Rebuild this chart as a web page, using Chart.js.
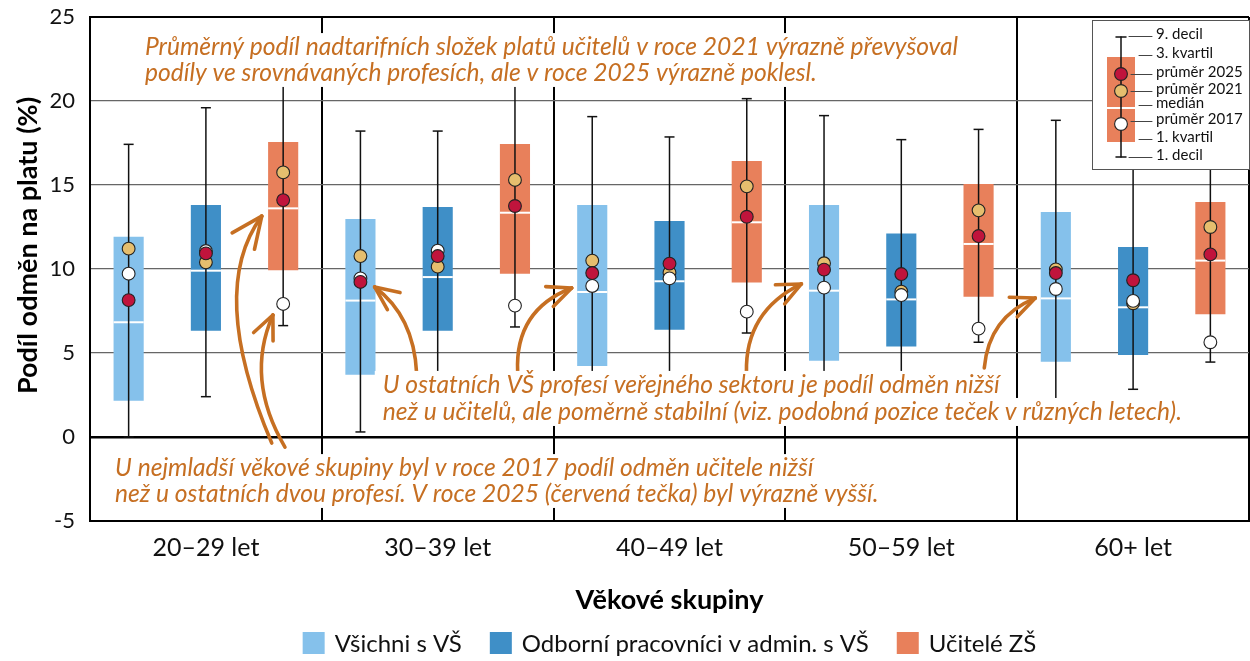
<!DOCTYPE html>
<html>
<head>
<meta charset="utf-8">
<script src="https://cdn.jsdelivr.net/npm/chart.js@4.4.1/dist/chart.umd.min.js"></script>
<style>
  html, body { margin: 0; padding: 0; background: #fff; }
</style>
</head>
<body>
<canvas id="chart" width="1250" height="661"></canvas>
<script>
const ageGroups = ['20–29 let', '30–39 let', '40–49 let', '50–59 let', '60+ let'];
const seriesNames = ['Všichni s VŠ', 'Odborní pracovníci v admin. s VŠ', 'Učitelé ZŠ'];
const yTicks = [-5, 0, 5, 10, 15, 20, 25];

// Všichni s VŠ
const allDecile1 = [0.0, 0.3, 1.8, 1.9, 1.8];
const allQuart1 = [2.16, 3.71, 4.23, 4.54, 4.48];
const allMedian = [6.83, 8.12, 8.63, 8.71, 8.25];
const allQuart3 = [11.92, 12.98, 13.81, 13.81, 13.39];
const allDecile9 = [17.42, 18.21, 19.07, 19.13, 18.85];
const allMean2017 = [9.72, 9.44, 8.99, 8.89, 8.81];
const allMean2021 = [11.21, 10.77, 10.5, 10.34, 9.98];
const allMean2025 = [8.15, 9.23, 9.76, 9.96, 9.76];

// Odborní pracovníci v admin. s VŠ
const adminDecile1 = [2.4, 2.0, 3.85, 2.2, 2.84];
const adminQuart1 = [6.33, 6.33, 6.39, 5.38, 4.88];
const adminMedian = [9.9, 9.52, 9.27, 8.19, 7.72];
const adminQuart3 = [13.81, 13.69, 12.86, 12.12, 11.31];
const adminDecile9 = [19.6, 18.21, 17.86, 17.7, 18.0];
const adminMean2017 = [11.07, 11.09, 9.44, 8.45, 8.1];
const adminMean2021 = [10.4, 10.14, 9.78, 8.65, 7.96];
const adminMean2025 = [10.93, 10.77, 10.32, 9.7, 9.33];

// Učitelé ZŠ
const teachDecile1 = [6.63, 6.55, 6.19, 5.64, 4.46];
const teachQuart1 = [9.92, 9.72, 9.19, 8.35, 7.3];
const teachMedian = [13.61, 13.35, 12.78, 11.49, 10.5];
const teachQuart3 = [17.56, 17.44, 16.43, 15.06, 13.99];
const teachDecile9 = [22.5, 21.8, 20.14, 18.31, 20.5];
const teachMean2017 = [7.92, 7.82, 7.46, 6.45, 5.64];
const teachMean2021 = [15.75, 15.3, 14.92, 13.49, 12.5];
const teachMean2025 = [14.1, 13.75, 13.11, 11.96, 10.87];

const legendLabels = ['9. decil', '3. kvartil', 'průměr 2025', 'průměr 2021', 'medián', 'průměr 2017', '1. kvartil', '1. decil'];

const noteTop = [
  'Průměrný podíl nadtarifních složek platů učitelů v roce 2021 výrazně převyšoval',
  'podíly ve srovnávaných profesích, ale v roce 2025 výrazně poklesl.'
];
const noteMiddle = [
  'U ostatních VŠ profesí veřejného sektoru je podíl odměn nižší',
  'než u učitelů, ale poměrně stabilní (viz. podobná pozice teček v různých letech).'
];
const noteBottom = [
  'U nejmladší věkové skupiny byl v roce 2017 podíl odměn učitele nižší',
  'než u ostatních dvou profesí. V roce 2025 (červená tečka) byl výrazně vyšší.'
];

const stats = [
  { d1: allDecile1, q1: allQuart1, med: allMedian, q3: allQuart3, d9: allDecile9, m17: allMean2017, m21: allMean2021, m25: allMean2025 },
  { d1: adminDecile1, q1: adminQuart1, med: adminMedian, q3: adminQuart3, d9: adminDecile9, m17: adminMean2017, m21: adminMean2021, m25: adminMean2025 },
  { d1: teachDecile1, q1: teachQuart1, med: teachMedian, q3: teachQuart3, d9: teachDecile9, m17: teachMean2017, m21: teachMean2021, m25: teachMean2025 }
];

const boxColors = ['#85C1EB', '#3F8FC7', '#E8805B'];
const dotRed = '#C0143C', dotYellow = '#E6BE6E', dotWhite = '#FFFFFF';
const noteColor = '#C66F22';
const FONT = 'Lato, "Open Sans", sans-serif';

function line(ctx, x1, y1, x2, y2) {
  ctx.beginPath(); ctx.moveTo(x1, y1); ctx.lineTo(x2, y2); ctx.stroke();
}
function dot(ctx, x, y, fill) {
  ctx.beginPath(); ctx.arc(x, y, 6.4, 0, Math.PI * 2);
  ctx.fillStyle = fill; ctx.fill();
  ctx.lineWidth = 1.1; ctx.strokeStyle = '#222'; ctx.stroke();
}
function arrow(ctx, p0, c, p2, head) {
  ctx.beginPath(); ctx.moveTo(p0[0], p0[1]);
  ctx.quadraticCurveTo(c[0], c[1], p2[0], p2[1]); ctx.stroke();
  const ang = Math.atan2(p2[1] - c[1], p2[0] - c[0]);
  [0.42, -0.42].forEach(a => {
    line(ctx, p2[0], p2[1], p2[0] - head * Math.cos(ang + a), p2[1] - head * Math.sin(ang + a));
  });
}

const boxPlugin = {
  id: 'boxExtras',
  afterDatasetsDraw(chart) {
    const ctx = chart.ctx;
    const xs = chart.scales.x, ys = chart.scales.y;
    const Y = v => ys.getPixelForValue(v);
    const step = xs.getPixelForValue(1) - xs.getPixelForValue(0);
    const X = xi => xs.getPixelForValue(0) + xi * step;
    const P = p => [X(p[0]), Y(p[1])];
    ctx.save();

    // whiskers, medians, means
    stats.forEach((s, d) => {
      chart.getDatasetMeta(d).data.forEach((bar, i) => {
        const x = bar.x, w = bar.width;
        ctx.strokeStyle = '#fff'; ctx.lineWidth = 2;
        line(ctx, x - w / 2, Y(s.med[i]), x + w / 2, Y(s.med[i]));
        ctx.strokeStyle = '#111'; ctx.lineWidth = 1.5;
        line(ctx, x, Y(s.d1[i]), x, Y(s.d9[i]));
        line(ctx, x - 5, Y(s.d1[i]), x + 5, Y(s.d1[i]));
        line(ctx, x - 5, Y(s.d9[i]), x + 5, Y(s.d9[i]));
        dot(ctx, x, Y(s.m21[i]), dotYellow);
        dot(ctx, x, Y(s.m17[i]), dotWhite);
        dot(ctx, x, Y(s.m25[i]), dotRed);
      });
    });

    // arrows (points in category / value units)
    ctx.strokeStyle = noteColor; ctx.lineWidth = 3.6; ctx.lineCap = 'round';
    const arrows = [
      [[0.284, -0.36], [0.004, 8.72], [0.241, 13.15], 34],
      [[0.341, -0.6], [0.168, 3.45], [0.289, 7.26], 26],
      [[0.909, 3.81], [0.897, 7.20], [0.728, 8.93], 26],
      [[1.345, 3.87], [1.332, 7.56], [1.578, 8.87], 26],
      [[2.332, 3.81], [2.325, 7.47], [2.569, 9.11], 26],
      [[3.358, 4.11], [3.377, 7.14], [3.578, 8.27], 26]
    ];
    arrows.forEach(a => arrow(ctx, P(a[0]), P(a[1]), P(a[2]), a[3]));

    // notes with white background per line
    ctx.font = 'italic 20px ' + FONT;
    const size = 20 * 813 / ctx.measureText(noteTop[0]).width;
    ctx.font = 'italic ' + size.toFixed(1) + 'px ' + FONT;
    ctx.textBaseline = 'middle'; ctx.textAlign = 'left';
    const notes = [
      [noteTop, -0.263, [23.21, 21.67]],
      [noteMiddle, 0.763, [3.10, 1.49]],
      [noteBottom, -0.392, [-1.85, -3.39]]
    ];
    notes.forEach(([lines, xi, vs]) => {
      lines.forEach((t, k) => {
        const x = X(xi), y = Y(vs[k]);
        const w = ctx.measureText(t).width;
        ctx.fillStyle = '#fff';
        ctx.fillRect(x - 8, y - 14, w + 16, 28);
      });
      lines.forEach((t, k) => {
        ctx.fillStyle = noteColor;
        ctx.fillText(t, X(xi), Y(vs[k]));
      });
    });

    // inset legend
    const ca = chart.chartArea;
    const lx = ca.right - 157, ty = ca.top + 3;
    ctx.fillStyle = '#fff'; ctx.fillRect(lx, ty, 157, 149);
    ctx.strokeStyle = '#555'; ctx.lineWidth = 1;
    ctx.strokeRect(lx + 0.5, ty + 0.5, 157, 149);
    const cx = lx + 29;
    ctx.fillStyle = boxColors[2]; ctx.fillRect(lx + 15, ty + 37, 28, 85);
    ctx.strokeStyle = '#fff'; ctx.lineWidth = 2; line(ctx, lx + 15, ty + 88, lx + 43, ty + 88);
    ctx.strokeStyle = '#111'; ctx.lineWidth = 1.5;
    line(ctx, cx, ty + 17, cx, ty + 137);
    line(ctx, cx - 5, ty + 17, cx + 5, ty + 17);
    line(ctx, cx - 5, ty + 137, cx + 5, ty + 137);
    dot(ctx, cx, ty + 54, dotRed);
    dot(ctx, cx, ty + 71, dotYellow);
    dot(ctx, cx, ty + 104, dotWhite);
    const rows = [
      [ty + 14, 37], [ty + 33, 47], [ty + 52, 39], [ty + 69, 39],
      [ty + 83, 47], [ty + 99, 39], [ty + 117, 47], [ty + 135, 37]
    ];
    ctx.font = '15px ' + FONT; ctx.textBaseline = 'middle';
    rows.forEach(([y, x0], k) => {
      ctx.strokeStyle = '#444'; ctx.lineWidth = 1;
      line(ctx, lx + x0, y + 2.5, lx + 60, y + 2.5);
      ctx.fillStyle = '#111';
      ctx.fillText(legendLabels[k], lx + 64, y);
    });

    // bottom legend centred on plot area
    ctx.font = '24px ' + FONT;
    const items = chart.data.datasets.map(ds => ({ label: ds.label, color: ds.backgroundColor }));
    const widths = items.map(it => 22 + 10 + ctx.measureText(it.label).width);
    const total = widths.reduce((a, b) => a + b, 0) + 28 * (items.length - 1);
    let x = (ca.left + ca.right) / 2 - total / 2;
    const ly = 643;
    items.forEach((it, k) => {
      ctx.fillStyle = it.color; ctx.fillRect(x, ly - 11, 22, 22);
      ctx.fillStyle = '#111'; ctx.fillText(it.label, x + 32, ly + 1);
      x += widths[k] + 28;
    });
    ctx.restore();
  }
};

new Chart(document.getElementById('chart'), {
  type: 'bar',
  data: {
    labels: ageGroups,
    datasets: stats.map((s, d) => ({
      label: seriesNames[d],
      data: s.q1.map((v, i) => [v, s.q3[i]]),
      backgroundColor: boxColors[d],
      borderWidth: 0,
      categoryPercentage: 1.0,
      barPercentage: 0.39
    }))
  },
  options: {
    responsive: false,
    animation: false,
    devicePixelRatio: 1,
    layout: { padding: { top: 17, right: 1, left: 0, bottom: 0 } },
    plugins: { legend: { display: false }, tooltip: { enabled: false } },
    scales: {
      x: {
        afterFit: s => { s.height = 140; },
        grid: { offset: true, color: '#000', lineWidth: 2, drawTicks: false },
        border: { color: '#000', width: 2 },
        ticks: { color: '#111', font: { family: FONT, size: 25 }, padding: 12 },
        title: { display: true, text: 'Věkové skupiny', color: '#000',
                 font: { family: FONT, size: 27, weight: 'bold' }, padding: { top: 0, bottom: 45 } }
      },
      y: {
        min: -5, max: 25,
        afterFit: s => { s.width = 90; s.paddingTop = 0; s.paddingBottom = 0; },
        afterBuildTicks: s => { s.ticks = yTicks.map(v => ({ value: v })); },
        grid: {
          drawTicks: false,
          color: c => (c.tick.value === 0 || c.tick.value === -5 || c.tick.value === 25) ? '#000' : '#666',
          lineWidth: c => c.tick.value === 0 ? 2.5 : (c.tick.value === -5 || c.tick.value === 25 ? 2 : 1.3)
        },
        border: { color: '#000', width: 2 },
        ticks: { color: '#111', font: { family: FONT, size: 22 }, padding: 15 },
        title: { display: true, text: '\u2007\u2007\u2007Podíl odměn na platu (%)', color: '#000',
                 font: { family: FONT, size: 27, weight: 'bold' }, padding: { top: 12, bottom: 0 } }
      }
    }
  },
  plugins: [boxPlugin]
});
</script>
</body>
</html>
